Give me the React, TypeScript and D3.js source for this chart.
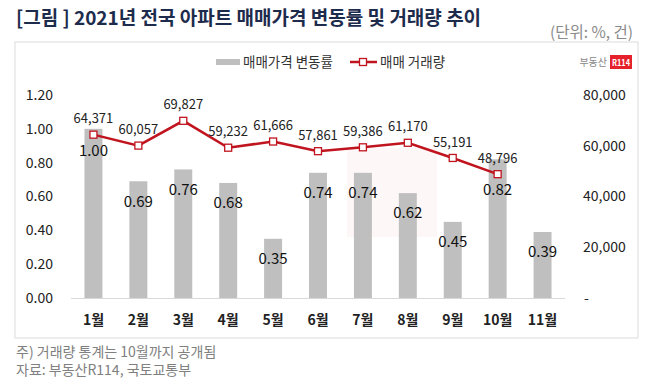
import React, { useEffect, useRef } from 'react';
import * as d3 from 'd3';

const months = ['1월', '2월', '3월', '4월', '5월', '6월', '7월', '8월', '9월', '10월', '11월'];
const priceChange = [1.0, 0.69, 0.76, 0.68, 0.35, 0.74, 0.74, 0.62, 0.45, 0.82, 0.39];
const tradeVolume = [64371, 60057, 69827, 59232, 61666, 57861, 59386, 61170, 55191, 48796];
const leftTicks = [0, 0.2, 0.4, 0.6, 0.8, 1.0, 1.2];
const rightTicks = [0, 20000, 40000, 60000, 80000];

const FONT = '"Noto Sans CJK KR", "Noto Sans", sans-serif';

const App: React.FC = () => {
  const ref = useRef<SVGSVGElement>(null);

  useEffect(() => {
    if (!ref.current) return;
    const svg = d3.select(ref.current);
    svg.selectAll('*').remove();
    svg.attr('font-family', FONT);

    const x = d3.scaleBand<string>().domain(months).range([71, 565]).paddingInner(0.6).paddingOuter(0.3);
    const yL = d3.scaleLinear().domain([0, 1.2]).range([298, 95]);
    const yR = d3.scaleLinear().domain([0, 80000]).range([298, 95]);
    const cx = (m: string) => (x(m) as number) + x.bandwidth() / 2;

    // title
    svg.append('text').attr('x', 16).attr('y', 25).attr('font-size', 19).attr('font-weight', 'bold')
      .attr('fill', '#1d2b4c').text('[그림 ] 2021년 전국 아파트 매매가격 변동률 및 거래량 추이');
    svg.append('text').attr('x', 633).attr('y', 38).attr('text-anchor', 'end').attr('font-size', 15.5)
      .attr('fill', '#8a8a8a').text('(단위: %, 건)');

    // frame
    svg.append('rect').attr('x', 15).attr('y', 42).attr('width', 623).attr('height', 296)
      .attr('fill', '#fff').attr('stroke', '#e2e2e2').attr('stroke-width', 1.2);

    // faint watermark
    svg.append('rect').attr('x', 347).attr('y', 148).attr('width', 90).attr('height', 89)
      .attr('fill', '#e8343c').attr('opacity', 0.04);

    // logo
    svg.append('text').attr('x', 607).attr('y', 66).attr('text-anchor', 'end').attr('font-size', 10)
      .attr('fill', '#888').text('부동산');
    svg.append('rect').attr('x', 610).attr('y', 55).attr('width', 22).attr('height', 14).attr('fill', '#e5212b');
    svg.append('text').attr('x', 612).attr('y', 66).attr('font-size', 9)
      .attr('textLength', 18).attr('lengthAdjust', 'spacingAndGlyphs')
      .attr('font-weight', 'bold').attr('fill', '#fff').text('R114');

    // legend
    svg.append('rect').attr('x', 216).attr('y', 59).attr('width', 24).attr('height', 6).attr('fill', '#bfbfbf');
    svg.append('text').attr('x', 243).attr('y', 67).attr('font-size', 13.5).attr('fill', '#333').text('매매가격 변동률');
    svg.append('line').attr('x1', 350).attr('x2', 377).attr('y1', 62).attr('y2', 62)
      .attr('stroke', '#c0141e').attr('stroke-width', 2.5);
    svg.append('rect').attr('x', 359.5).attr('y', 58.5).attr('width', 7).attr('height', 7)
      .attr('fill', '#fff').attr('stroke', '#c0141e').attr('stroke-width', 1.3);
    svg.append('text').attr('x', 380).attr('y', 67).attr('font-size', 13.5).attr('fill', '#333').text('매매 거래량');

    // left axis labels
    svg.append('g').selectAll('text').data(leftTicks).join('text')
      .attr('x', 53).attr('y', d => yL(d)).attr('dy', '0.35em').attr('text-anchor', 'end')
      .attr('font-size', 14).attr('fill', '#222').text(d => d3.format('.2f')(d));

    // right axis labels
    svg.append('g').selectAll('text').data(rightTicks).join('text')
      .attr('x', d => (d === 0 ? 584 : 583)).attr('y', d => yR(d)).attr('dy', '0.35em')
      .attr('font-size', 14).attr('fill', '#222').text(d => (d === 0 ? '-' : d3.format(',')(d)));

    // baseline
    svg.append('line').attr('x1', 71).attr('x2', 565).attr('y1', 298.5).attr('y2', 298.5)
      .attr('stroke', '#d9d9d9').attr('stroke-width', 1);

    // bars
    svg.append('g').selectAll('rect').data(priceChange).join('rect')
      .attr('x', (d, i) => x(months[i]) as number).attr('width', x.bandwidth())
      .attr('y', d => yL(d)).attr('height', d => yL(0) - yL(d)).attr('fill', '#bfbfbf');

    // bar labels, pushed below the line marker when they would collide
    const barLabelY = (d: number, i: number) => {
      const base = yL(d) + 20;
      const v = tradeVolume[i];
      return v === undefined ? base : Math.max(base, yR(v) + 16);
    };
    svg.append('g').selectAll('text').data(priceChange).join('text')
      .attr('x', (d, i) => cx(months[i])).attr('y', barLabelY).attr('dy', '0.35em')
      .attr('text-anchor', 'middle').attr('font-size', 15).attr('fill', '#111')
      .text(d => d3.format('.2f')(d));

    // month labels
    svg.append('g').selectAll('text').data(months).join('text')
      .attr('x', d => cx(d)).attr('y', 320).attr('dy', '0.35em').attr('text-anchor', 'middle')
      .attr('font-size', 14).attr('font-weight', 'bold').attr('fill', '#222').text(d => d);

    // line
    const line = d3.line<number>().x((d, i) => cx(months[i])).y(d => yR(d));
    svg.append('path').datum(tradeVolume).attr('d', line).attr('fill', 'none')
      .attr('stroke', '#c0141e').attr('stroke-width', 2.5);
    svg.append('g').selectAll('rect').data(tradeVolume).join('rect')
      .attr('x', (d, i) => cx(months[i]) - 3.5).attr('y', d => yR(d) - 3.5)
      .attr('width', 7).attr('height', 7).attr('fill', '#fff')
      .attr('stroke', '#c0141e').attr('stroke-width', 1.3);
    svg.append('g').selectAll('text').data(tradeVolume).join('text')
      .attr('x', (d, i) => cx(months[i])).attr('y', d => yR(d) - 16).attr('dy', '0.35em')
      .attr('text-anchor', 'middle').attr('font-size', 13).attr('fill', '#222')
      .text(d => d3.format(',')(d));

    // footer
    svg.append('text').attr('x', 16).attr('y', 352).attr('dy', '0.35em').attr('font-size', 14)
      .attr('fill', '#808080').text('주) 거래량 통계는 10월까지 공개됨');
    svg.append('text').attr('x', 16).attr('y', 370).attr('dy', '0.35em').attr('font-size', 14)
      .attr('fill', '#808080').text('자료: 부동산R114, 국토교통부');
  }, []);

  return (
    <svg ref={ref} width={658} height={389}
      style={{ position: 'absolute', left: 0, top: 0, background: '#fff' }} />
  );
};

export default App;
